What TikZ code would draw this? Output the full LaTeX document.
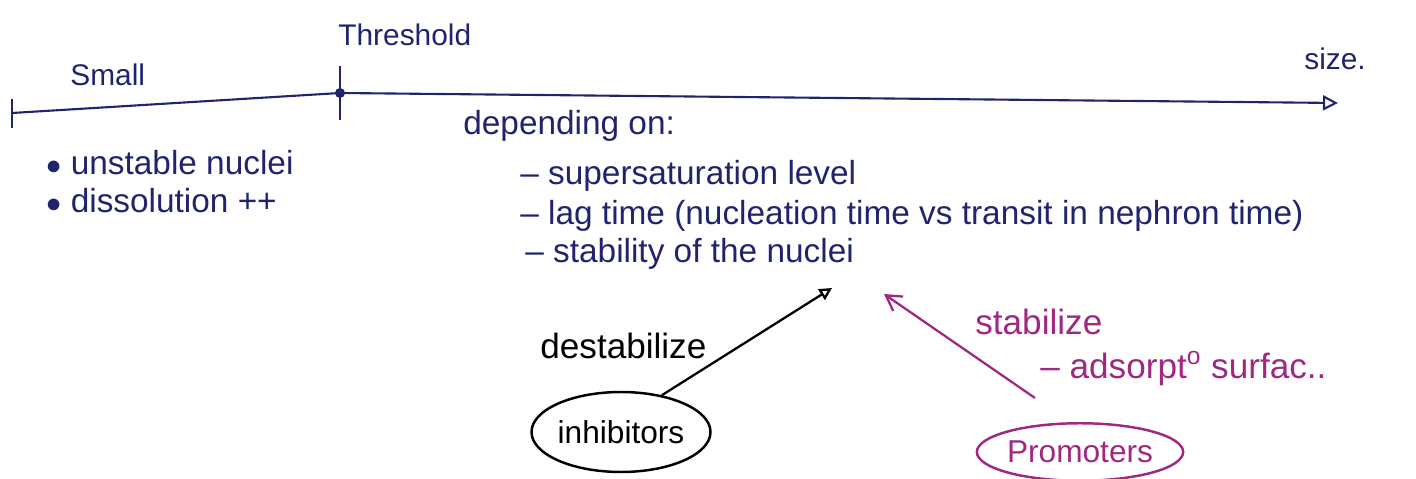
\documentclass[tikz,border=0pt]{standalone}
\usepackage{fontspec}
\setmainfont{Liberation Sans}
\usepackage{tikz}
\usetikzlibrary{positioning,arrows.meta,shapes.geometric}
\definecolor{inkblue}{RGB}{32,36,110}
\definecolor{inkpink}{RGB}{160,40,130}
\tikzset{
  axis/.style={-{Triangle[open,length=3mm,width=3mm]}, line width=1.2pt, draw=inkblue},
  tickmark/.style={line width=1.6pt, draw=inkblue},
  label/.style={anchor=base west, inner sep=0pt, font=\fontsize{17}{20}\selectfont, text=inkblue},
  note/.style={anchor=base west, inner sep=0pt, font=\fontsize{19}{22}\selectfont, text=inkblue},
  blacknote/.style={anchor=base west, inner sep=0pt, font=\fontsize{20}{23}\selectfont, text=black},
  pinknote/.style={anchor=base west, inner sep=0pt, font=\fontsize{20}{23}\selectfont, text=inkpink},
  agent/.style={ellipse, line width=1.4pt, inner sep=0pt, font=\fontsize{18}{21}\selectfont},
  inhib/.style={-{Triangle[open,length=2.5mm,width=2.5mm]}, line width=1.3pt, draw=black},
  promo/.style={-{Straight Barb[length=3mm,width=3.5mm]}, line width=1.3pt, draw=inkpink}
}
\begin{document}
\begin{tikzpicture}[x=0.02cm, y=-0.02cm]
  \useasboundingbox (0,0) rectangle (1416,479);

  % size axis
  \coordinate (start) at (12,113);
  \coordinate (thr) at (340,93);
  \coordinate (stop) at (1338,103);
  \draw[axis] (start) -- (thr) -- (stop);
  \draw[tickmark] (12,99) -- (12,128);
  \draw[tickmark] (340,66) -- (340,120);
  \fill[inkblue] (thr) circle (5);
  \node[label] (small) at (70,86) {Small};
  \node[label] (threshold) at (338,46) {Threshold};
  \node[label] (size) at (1304,70) {size.};

  % below threshold
  \node[note] (unstable) at (46,175) {$\bullet$ unstable nuclei};
  \node[note] (dissol) at (46,213) {$\bullet$ dissolution ++};

  % factors
  \node[note] (depend) at (463,135) {depending on:};
  \node[note] (supersat) at (520,185) {– supersaturation level};
  \node[note] (lag) at (520,225) {– lag time (nucleation time vs transit in nephron time)};
  \node[note] (stab) at (525,263) {– stability of the nuclei};

  % inhibitors
  \node[agent, draw=black, minimum width=3.55cm, minimum height=1.6cm] (inhibitors) at (621,432) {inhibitors};
  \node[blacknote] (destab) at (540,358) {destabilize};
  \coordinate (nucleiA) at (832,288);
  \draw[inhib] (inhibitors.42) -- (nucleiA);

  % promoters
  \node[agent, draw=inkpink, text=inkpink, minimum width=3.8cm, minimum height=1.15cm] (promoters) at (1080,452) {Promoters};
  \node[pinknote] (stabil) at (975,335) {stabilize};
  \node[pinknote] (adsorp) at (1040,378) {– adsorpt\textsuperscript{o} surfac..};
  \coordinate (promoStart) at (1035,398);
  \coordinate (nucleiB) at (884,294);
  \draw[promo] (promoStart) -- (nucleiB);
\end{tikzpicture}
\end{document}
